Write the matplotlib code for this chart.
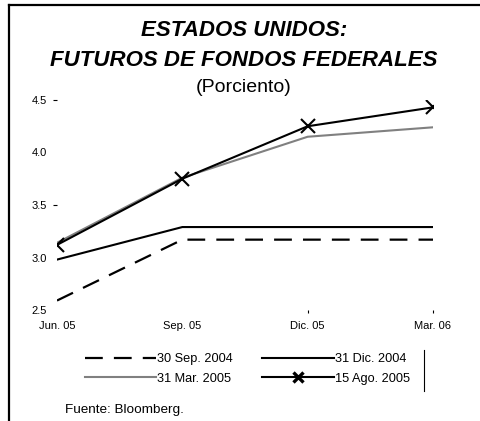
import matplotlib
matplotlib.use("Agg")
import matplotlib.pyplot as plt
from matplotlib.lines import Line2D

plt.rcParams['font.family'] = ['Liberation Sans', 'DejaVu Sans']

# data
periods = ["Jun. 05", "Sep. 05", "Dic. 05", "Mar. 06"]
sep_2004 = [2.59, 3.17, 3.17, 3.17]
dic_2004 = [2.98, 3.29, 3.29, 3.29]
mar_2005 = [3.14, 3.76, 4.15, 4.24]
ago_2005 = [3.12, 3.75, 4.25, 4.43]
y_ticks = [2.5, 3.0, 3.5, 4.0, 4.5]
y_tick_labels = ["2.5", "3.0", "3.5", "4.0", "4.5"]

fig = plt.figure(figsize=(4.8, 4.21), dpi=100)
ax = fig.add_axes([57 / 480, 1 - 310 / 421, (433 - 57) / 480, (310 - 100) / 421])

x = list(range(len(periods)))
l1, = ax.plot(x, sep_2004, color='black', lw=1.6, dashes=(8, 5), label="30 Sep. 2004")
l2, = ax.plot(x, dic_2004, color='black', lw=1.5, label="31 Dic. 2004")
l3, = ax.plot(x, mar_2005, color='#808080', lw=1.5, label="31 Mar. 2005")
l4, = ax.plot(x, ago_2005, color='black', lw=1.5, marker='x', markersize=10.5,
              markeredgewidth=1.5, label="15 Ago. 2005")

ax.set_xlim(0, 3)
ax.set_ylim(2.5, 4.5)
ax.set_xticks(x)
ax.set_xticklabels(periods, fontsize=8)
ax.set_yticks(y_ticks)
ax.set_yticklabels(y_tick_labels, fontsize=8)
ax.tick_params(axis='y', length=3, pad=4, width=0.8)
ax.tick_params(axis='x', length=2.5, pad=5.5, width=0.8)
for t in ax.yaxis.get_major_ticks():
    t.tick1line.set_visible(False)
for i in (2, 4):
    ax.yaxis.get_major_ticks()[i].tick1line.set_visible(True)
for i in (0, 1):
    ax.xaxis.get_major_ticks()[i].tick1line.set_visible(False)
for s in ax.spines.values():
    s.set_visible(False)
ax.patch.set_alpha(0)

# titles
cx = 244 / 480
fig.text(cx, 1 - 30 / 421, "ESTADOS UNIDOS:", ha='center', va='center',
         fontsize=16, fontweight='bold', fontstyle='italic')
fig.text(cx, 1 - 60 / 421, "FUTUROS DE FONDOS FEDERALES", ha='center', va='center',
         fontsize=16, fontweight='bold', fontstyle='italic')
fig.text(cx, 1 - 87 / 421, "(Porciento)", ha='center', va='center', fontsize=14)

# legend (the cross in the legend is smaller and bolder than on the chart)
l4_leg = Line2D([], [], color='black', lw=1.5, marker='x', markersize=6.5, markeredgewidth=2.4)
leg = fig.legend([l1, l3, l2, l4_leg],
                 [l1.get_label(), l3.get_label(), l2.get_label(), l4.get_label()],
                 ncol=2, frameon=False, fontsize=9.2, handlelength=5.6, handletextpad=0.1,
                 columnspacing=2.3, labelspacing=0.55,
                 loc='center left', bbox_to_anchor=(73 / 480, 1 - 369 / 421))

fig.text(65 / 480, 1 - 410 / 421, "Fuente: Bloomberg.", ha='left', va='center', fontsize=9.7)

# frame around the figure (left and top) and the cut legend box edge
fig.add_artist(Line2D([9 / 480, 9 / 480], [0, 1 - 5 / 421], color='black', lw=1.6))
fig.add_artist(Line2D([9 / 480, 1], [1 - 5 / 421, 1 - 5 / 421], color='black', lw=1.6))
fig.add_artist(Line2D([424 / 480, 424 / 480], [1 - 350 / 421, 1 - 391 / 421], color='black', lw=0.8))

fig.savefig("out.png", dpi=100)
